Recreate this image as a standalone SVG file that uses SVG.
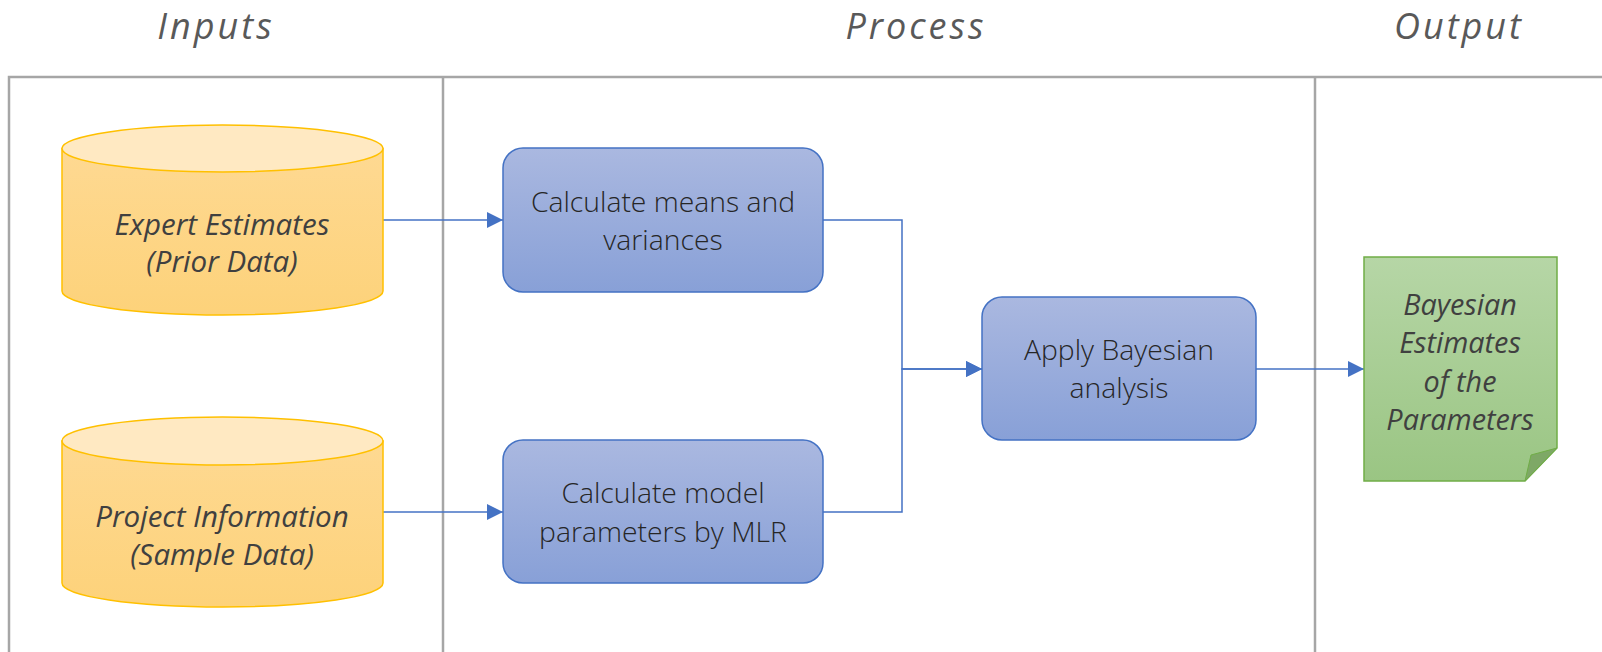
<svg xmlns="http://www.w3.org/2000/svg" width="1602" height="652" viewBox="0 0 1602 652">
  <defs>
    <linearGradient id="gCylBody" x1="0" y1="0" x2="0" y2="1">
      <stop offset="0" stop-color="#fed992"/>
      <stop offset="1" stop-color="#fdd27a"/>
    </linearGradient>
    <linearGradient id="gBox" x1="0" y1="0" x2="0" y2="1">
      <stop offset="0" stop-color="#aab8e0"/>
      <stop offset="1" stop-color="#88a0d7"/>
    </linearGradient>
    <linearGradient id="gDoc" x1="0" y1="0" x2="0" y2="1">
      <stop offset="0" stop-color="#b6d6a6"/>
      <stop offset="1" stop-color="#9ac583"/>
    </linearGradient>
    <marker id="arrow" markerUnits="userSpaceOnUse" markerWidth="16" markerHeight="16" refX="16" refY="8" orient="auto">
      <path d="M0,0 L16,8 L0,16 Z" fill="#4472c4"/>
    </marker>
  </defs>
  <style>
    .frame { stroke: #a6a6a6; stroke-width: 2.5; fill: none; }
    .header { font-family: "Open Sans", "Liberation Sans", sans-serif; font-style: italic; font-size: 36px; letter-spacing: 3px; fill: #595959; text-anchor: middle; }
    .cyl-body { fill: url(#gCylBody); stroke: #ffc000; stroke-width: 1.5; }
    .cyl-top { fill: #ffe9c2; stroke: #ffc000; stroke-width: 1.5; }
    .cyl-text { font-family: "Open Sans", "Liberation Sans", sans-serif; font-style: italic; font-size: 29.5px; fill: #404040; text-anchor: middle; }
    .box { fill: url(#gBox); stroke: #4472c4; stroke-width: 1.5; }
    .box-text { font-family: "Open Sans", "Liberation Sans", sans-serif; font-weight: 300; font-size: 28.3px; fill: #262626; text-anchor: middle; }
    .doc { fill: url(#gDoc); stroke: #70ad47; stroke-width: 1.5; }
    .fold { fill: #7ea866; stroke: #70ad47; stroke-width: 1; }
    .doc-text { font-family: "Open Sans", "Liberation Sans", sans-serif; font-style: italic; font-size: 28.8px; fill: #404040; text-anchor: middle; }
    .link { stroke: #4472c4; stroke-width: 1.5; fill: none; }
  </style>

  <rect width="1602" height="652" fill="#ffffff"/>

  <!-- column headers -->
  <g id="headers">
    <text class="header" x="216" y="39">Inputs</text>
    <text class="header" x="916" y="39">Process</text>
    <text class="header" x="1459" y="39">Output</text>
  </g>

  <!-- swimlane frame -->
  <g id="frame">
    <path class="frame" d="M9,652 V77 H1602"/>
    <path class="frame" d="M443,77 V652"/>
    <path class="frame" d="M1315,77 V652"/>
  </g>

  <!-- connectors -->
  <g id="connectors">
    <path class="link" d="M383,220 H503" marker-end="url(#arrow)"/>
    <path class="link" d="M383,512 H503" marker-end="url(#arrow)"/>
    <path class="link" d="M823,220 H902 V369 H982" marker-end="url(#arrow)"/>
    <path class="link" d="M823,512 H902 V369 H982" marker-end="url(#arrow)"/>
    <path class="link" d="M1256,369 H1364" marker-end="url(#arrow)"/>
  </g>

  <!-- input data stores -->
  <g id="expert-estimates">
    <path class="cyl-body" d="M62,148.5 V291 A160.5,24 0 0 0 383,291 V148.5 Z"/>
    <ellipse class="cyl-top" cx="222.5" cy="148.5" rx="160.5" ry="23.5"/>
    <text class="cyl-text" x="222" y="235">Expert Estimates</text>
    <text class="cyl-text" x="222" y="272">(Prior Data)</text>
  </g>

  <g id="project-information">
    <path class="cyl-body" d="M62,441 V583 A160.5,24 0 0 0 383,583 V441 Z"/>
    <ellipse class="cyl-top" cx="222.5" cy="441" rx="160.5" ry="24"/>
    <text class="cyl-text" x="222" y="527">Project Information</text>
    <text class="cyl-text" x="222" y="565">(Sample Data)</text>
  </g>

  <!-- process steps -->
  <g id="means-variances">
    <rect class="box" x="503" y="148" width="320" height="144" rx="20" ry="20"/>
    <text class="box-text" x="663" y="212">Calculate means and</text>
    <text class="box-text" x="663" y="250">variances</text>
  </g>

  <g id="model-parameters">
    <rect class="box" x="503" y="440" width="320" height="143" rx="20" ry="20"/>
    <text class="box-text" x="663" y="503">Calculate model</text>
    <text class="box-text" x="663" y="542">parameters by MLR</text>
  </g>

  <g id="bayesian-analysis">
    <rect class="box" x="982" y="297" width="274" height="143" rx="20" ry="20"/>
    <text class="box-text" x="1119" y="360">Apply Bayesian</text>
    <text class="box-text" x="1119" y="398">analysis</text>
  </g>

  <!-- output document -->
  <g id="bayesian-estimates">
    <path class="doc" d="M1364,257 H1557 V448 L1525,481 H1364 Z"/>
    <path class="fold" d="M1557,448 L1531,455 L1525,481 Z"/>
    <text class="doc-text" x="1460" y="315">Bayesian</text>
    <text class="doc-text" x="1460" y="353">Estimates</text>
    <text class="doc-text" x="1460" y="392">of the</text>
    <text class="doc-text" x="1460" y="430">Parameters</text>
  </g>
</svg>
